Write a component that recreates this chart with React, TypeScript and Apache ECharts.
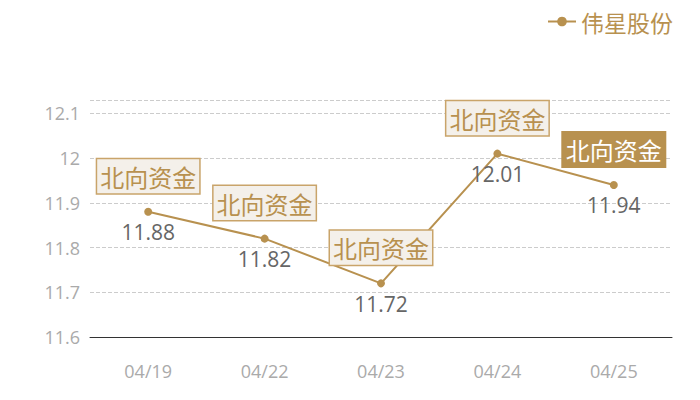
import React, { useEffect, useRef } from 'react';
import * as echarts from 'echarts';

const dates = ['04/19', '04/22', '04/23', '04/24', '04/25'];
const prices = [11.88, 11.82, 11.72, 12.01, 11.94];
const tagText = '北向资金';
const seriesName = '伟星股份';

const GOLD = '#b8914f';
const FONT = '"Open Sans", "Noto Sans CJK SC", sans-serif';
const CJK = '"Noto Sans CJK SC", sans-serif';

const App: React.FC = () => {
    const chartRef = useRef<HTMLDivElement>(null);

    useEffect(() => {
        if (!chartRef.current) return;
        const chart = echarts.init(chartRef.current, null, { renderer: 'svg' });

        // last tag is drawn filled
        const tagData = prices.map((v, i) =>
            i === prices.length - 1
                ? { value: v, label: { backgroundColor: GOLD, color: '#fff', borderColor: GOLD } }
                : v
        );

        chart.setOption({
            animation: false,
            textStyle: { fontFamily: FONT },
            legend: {
                data: [seriesName],
                right: 22,
                top: 5,
                itemWidth: 28,
                itemHeight: 12,
                itemGap: 6,
                textStyle: { color: GOLD, fontSize: 23, fontFamily: CJK },
            },
            grid: { left: 90, right: 28, top: 100, bottom: 63 },
            xAxis: {
                type: 'category',
                data: dates,
                axisLine: { lineStyle: { color: '#333', width: 1 } },
                axisTick: { show: false },
                axisLabel: { color: '#aaa', fontSize: 18, margin: 25, fontFamily: FONT },
            },
            yAxis: {
                type: 'value',
                min: 11.6,
                max: 12.13,
                interval: 0.1,
                axisLine: { show: false },
                axisTick: { show: false },
                axisLabel: { color: '#aaa', fontSize: 18, margin: 10, showMaxLabel: false, fontFamily: FONT },
                splitLine: { lineStyle: { color: '#ccc', type: 'dashed' } },
            },
            series: [
                {
                    name: seriesName,
                    type: 'line',
                    data: prices,
                    symbol: 'circle',
                    symbolSize: 8,
                    itemStyle: { color: GOLD },
                    lineStyle: { color: GOLD, width: 2 },
                    label: {
                        show: true,
                        position: 'bottom',
                        distance: 6,
                        color: '#666',
                        fontSize: 21,
                        fontFamily: FONT,
                    },
                    z: 2,
                },
                {
                    name: 'tag',
                    type: 'line',
                    data: tagData,
                    symbol: 'circle',
                    symbolSize: 1,
                    showSymbol: true,
                    itemStyle: { color: 'rgba(0,0,0,0)' },
                    lineStyle: { width: 0, opacity: 0 },
                    silent: true,
                    z: 5,
                    label: {
                        show: true,
                        position: 'top',
                        distance: 18,
                        formatter: tagText,
                        color: GOLD,
                        fontSize: 24,
                        lineHeight: 24,
                        fontFamily: CJK,
                        backgroundColor: '#f4f0ea',
                        borderColor: '#c9a46a',
                        borderWidth: 1.5,
                        padding: [5, 3, 5, 3],
                    },
                },
            ],
        });

        return () => {
            chart.dispose();
        };
    }, []);

    return <div ref={chartRef} style={{ width: 700, height: 400, position: 'absolute', left: 0, top: 0 }} />;
};

export default App;
